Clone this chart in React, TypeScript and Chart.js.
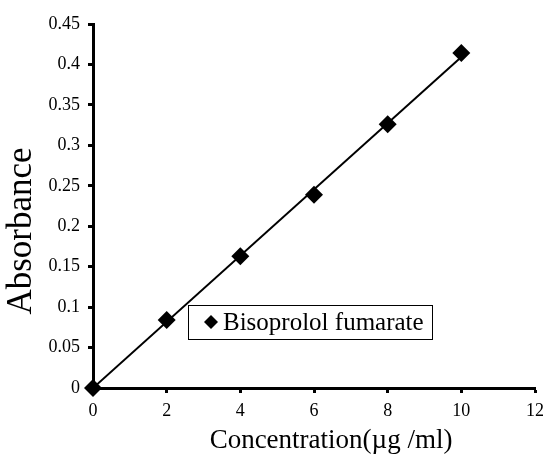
import React, { useEffect, useRef } from "react";
import { Chart, registerables } from "chart.js";

Chart.register(...registerables);

const concentrations = [0, 2, 4, 6, 8, 10];
const absorbance = [0, 0.084, 0.163, 0.239, 0.326, 0.414];
const seriesName = "Bisoprolol fumarate";
const xTitle = "Concentration(µg /ml)";
const yTitle = "Absorbance";

// least-squares trendline through origin, from the data
const slope =
  concentrations.reduce((s, x, i) => s + x * absorbance[i], 0) /
  concentrations.reduce((s, x) => s + x * x, 0);
const trendX = [0, 10];

const FONT = "'Liberation Serif', 'Times New Roman', serif";

const extras = {
  id: "extras",
  afterDraw(chart: any) {
    const { ctx, scales } = chart;
    ctx.save();
    // axis titles
    ctx.fillStyle = "#000";
    ctx.textAlign = "center";
    ctx.textBaseline = "middle";
    ctx.font = `27px ${FONT}`;
    ctx.fillText(xTitle, 331, 441);
    ctx.save();
    ctx.translate(22, 231);
    ctx.rotate(-Math.PI / 2);
    ctx.font = `35px ${FONT}`;
    ctx.fillText(yTitle, 0, 0);
    ctx.restore();

    // legend box
    const x0 = Math.round(scales.x.getPixelForValue(2.58));
    const x1 = Math.round(scales.x.getPixelForValue(9.2));
    const y0 = Math.round(scales.y.getPixelForValue(0.1025));
    const y1 = Math.round(scales.y.getPixelForValue(0.06));
    ctx.fillStyle = "#fff";
    ctx.fillRect(x0, y0, x1 - x0, y1 - y0);
    ctx.strokeStyle = "#000";
    ctx.lineWidth = 1;
    ctx.strokeRect(x0 + 0.5, y0 + 0.5, x1 - x0, y1 - y0);
    const cy = (y0 + y1) / 2;
    const cx = x0 + 23;
    const r = 7;
    ctx.fillStyle = "#000";
    ctx.beginPath();
    ctx.moveTo(cx, cy - r);
    ctx.lineTo(cx + r, cy);
    ctx.lineTo(cx, cy + r);
    ctx.lineTo(cx - r, cy);
    ctx.closePath();
    ctx.fill();
    ctx.font = `25px ${FONT}`;
    ctx.textAlign = "left";
    ctx.fillText(seriesName, cx + 12, cy + 1);
    ctx.restore();
  },
};

export default function App() {
  const ref = useRef<HTMLCanvasElement>(null);
  useEffect(() => {
    document.body.style.margin = "0";
    const chart = new Chart(ref.current!, {
      type: "scatter",
      data: {
        datasets: [
          {
            label: "trend",
            data: trendX.map((x) => ({ x, y: slope * x })),
            showLine: true,
            borderColor: "#000",
            borderWidth: 2,
            pointRadius: 0,
            order: 2,
          },
          {
            label: seriesName,
            data: concentrations.map((x, i) => ({ x, y: absorbance[i] })),
            pointStyle: "rectRot",
            pointRadius: 9,
            backgroundColor: "#000",
            borderColor: "#000",
            borderWidth: 0,
            clip: false,
            order: 1,
          },
        ],
      },
      options: {
        animation: false,
        responsive: false,
        layout: { padding: { top: 24, right: 7, left: 0, bottom: 0 } },
        plugins: { legend: { display: false }, tooltip: { enabled: false } },
        scales: {
          x: {
            type: "linear",
            min: 0,
            max: 12,
            ticks: {
              stepSize: 2,
              color: "#000",
              font: { family: FONT, size: 18 },
              padding: 7,
            },
            grid: {
              drawOnChartArea: false,
              drawTicks: true,
              tickLength: 5,
              tickColor: "#000",
              tickWidth: 3,
            },
            border: { color: "#000", width: 3 },
            afterFit(scale: any) {
              scale.height = 67;
              scale.paddingRight = 0;
              scale.paddingLeft = 0;
            },
          },
          y: {
            type: "linear",
            min: 0,
            max: 0.45,
            ticks: {
              stepSize: 0.05,
              color: "#000",
              font: { family: FONT, size: 18 },
              padding: 8,
              callback: (v: any) => String(Number(Number(v).toFixed(2))),
            },
            grid: {
              drawOnChartArea: false,
              drawTicks: true,
              tickLength: 5,
              tickColor: "#000",
              tickWidth: 3,
            },
            border: { color: "#000", width: 3 },
            afterFit(scale: any) {
              scale.width = 93;
              scale.paddingTop = 0;
              scale.paddingBottom = 0;
            },
          },
        },
      },
      plugins: [extras],
    });
    return () => chart.destroy();
  }, []);
  return (
    <div style={{ position: "absolute", left: 0, top: 0, width: 544, height: 455 }}>
      <canvas ref={ref} width={544} height={455} style={{ width: 544, height: 455 }} />
    </div>
  );
}
